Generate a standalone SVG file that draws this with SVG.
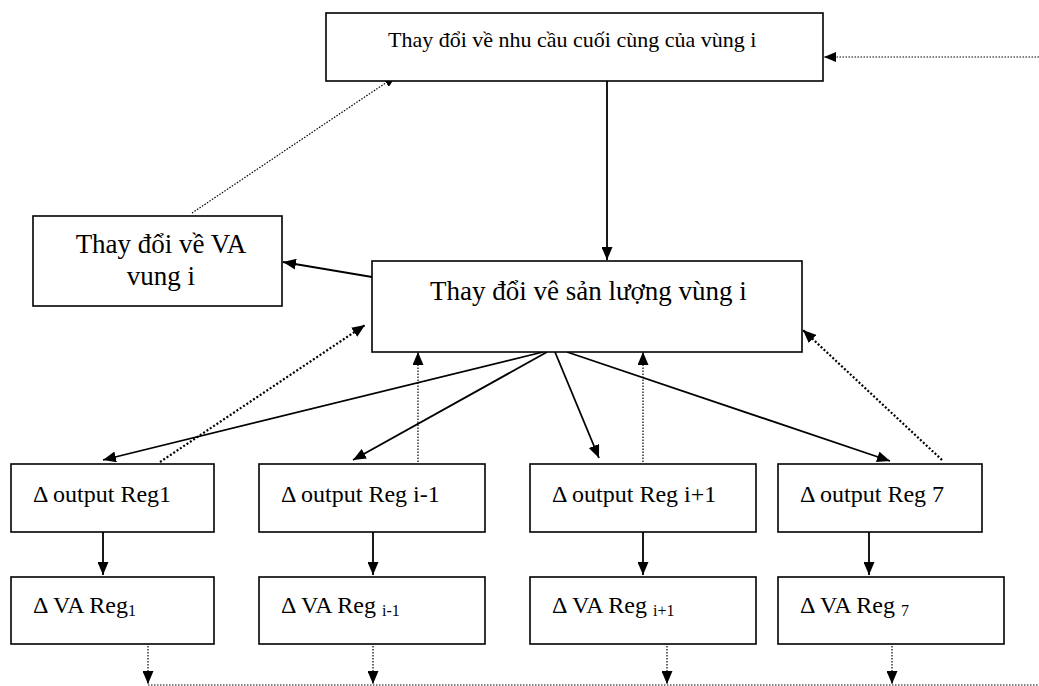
<svg xmlns="http://www.w3.org/2000/svg" width="1039" height="686" viewBox="0 0 1039 686">
<style>
.box{fill:#fff;stroke:#000;stroke-width:1.6}
.t{font-family:"Liberation Serif","Times New Roman",serif;fill:#000}
.solid{stroke:#000;stroke-width:1.8;fill:none}
.dot{stroke:#000;stroke-width:1.2;stroke-dasharray:1.5 1.5;fill:none}
.dotb{stroke:#000;stroke-width:2.2;stroke-dasharray:2 2;fill:none}
</style>
<defs>
<marker id="ah" markerUnits="userSpaceOnUse" markerWidth="13" markerHeight="11" refX="13" refY="5.5" orient="auto">
<path d="M0,0 L13,5.5 L0,11 z" fill="#000"/>
</marker>
<marker id="ahs" markerUnits="userSpaceOnUse" markerWidth="12" markerHeight="10" refX="12" refY="5" orient="auto">
<path d="M0,0 L12,5 L0,10 z" fill="#000"/>
</marker>
</defs>
<g id="connectors">
<line class="dot" x1="1039" y1="57" x2="824" y2="57" marker-end="url(#ahs)"/>
<line class="dot" x1="192" y1="213" x2="396" y2="76" marker-end="url(#ahs)"/>
<line class="solid" x1="607" y1="81" x2="607" y2="260" marker-end="url(#ah)"/>
<line class="solid" x1="372" y1="277" x2="283" y2="262" marker-end="url(#ah)"/>
<line class="solid" x1="543" y1="352" x2="103" y2="460" marker-end="url(#ah)"/>
<line class="solid" x1="547" y1="352" x2="353" y2="460" marker-end="url(#ah)"/>
<line class="solid" x1="555" y1="352" x2="599" y2="458" marker-end="url(#ah)"/>
<line class="solid" x1="567" y1="352" x2="890" y2="461" marker-end="url(#ah)"/>
<line class="dotb" x1="160" y1="462" x2="365" y2="325" marker-end="url(#ah)"/>
<line class="dot" x1="418" y1="462" x2="418" y2="352" marker-end="url(#ah)"/>
<line class="dot" x1="643" y1="462" x2="643" y2="352" marker-end="url(#ah)"/>
<line class="dotb" x1="942" y1="460" x2="803" y2="330" marker-end="url(#ah)"/>
<line class="solid" x1="103" y1="528" x2="103" y2="575" marker-end="url(#ah)"/>
<line class="solid" x1="373" y1="528" x2="373" y2="575" marker-end="url(#ah)"/>
<line class="solid" x1="643" y1="528" x2="643" y2="575" marker-end="url(#ah)"/>
<line class="solid" x1="869" y1="528" x2="869" y2="575" marker-end="url(#ah)"/>
<line class="dot" x1="148" y1="640" x2="148" y2="684" marker-end="url(#ah)"/>
<line class="dot" x1="373" y1="640" x2="373" y2="684" marker-end="url(#ah)"/>
<line class="dot" x1="667" y1="640" x2="667" y2="684" marker-end="url(#ah)"/>
<line class="dot" x1="892" y1="640" x2="892" y2="684" marker-end="url(#ah)"/>
<line class="dot" x1="148" y1="685" x2="1039" y2="685"/>
</g>
<g id="n-top"><rect class="box" x="326" y="13" width="497" height="68"/><text class="t" x="388" y="47" font-size="22">Thay đổi về nhu cầu cuối cùng của vùng i</text></g>
<g id="n-va"><rect class="box" x="33" y="216" width="249" height="90"/><text class="t" x="161" y="253" font-size="27" text-anchor="middle">Thay đổi về VA</text><text class="t" x="161" y="285" font-size="27" text-anchor="middle">vung i</text></g>
<g id="n-main"><rect class="box" x="372" y="261" width="430" height="91"/><text class="t" x="430" y="300" font-size="27">Thay đổi vê sản lượng vùng i</text></g>
<g id="n-o1"><rect class="box" x="11" y="464" width="203" height="68"/><text class="t" x="33" y="502" font-size="24">Δ output Reg1</text></g>
<g id="n-o2"><rect class="box" x="259" y="464" width="226" height="68"/><text class="t" x="281" y="502" font-size="24">Δ output Reg i-1</text></g>
<g id="n-o3"><rect class="box" x="530" y="464" width="226" height="68"/><text class="t" x="552" y="502" font-size="24">Δ output Reg i+1</text></g>
<g id="n-o4"><rect class="box" x="778" y="464" width="204" height="68"/><text class="t" x="800" y="502" font-size="24">Δ output Reg 7</text></g>
<g id="n-v1"><rect class="box" x="11" y="577" width="203" height="67"/><text class="t" x="33" y="613" font-size="24">Δ VA Reg<tspan font-size="16" dy="3">1</tspan></text></g>
<g id="n-v2"><rect class="box" x="259" y="577" width="226" height="67"/><text class="t" x="281" y="613" font-size="24">Δ VA Reg <tspan font-size="16" dy="3">i-1</tspan></text></g>
<g id="n-v3"><rect class="box" x="530" y="577" width="226" height="67"/><text class="t" x="552" y="613" font-size="24">Δ VA Reg <tspan font-size="16" dy="3">i+1</tspan></text></g>
<g id="n-v4"><rect class="box" x="778" y="577" width="226" height="67"/><text class="t" x="800" y="613" font-size="24">Δ VA Reg <tspan font-size="16" dy="3">7</tspan></text></g>
</svg>
